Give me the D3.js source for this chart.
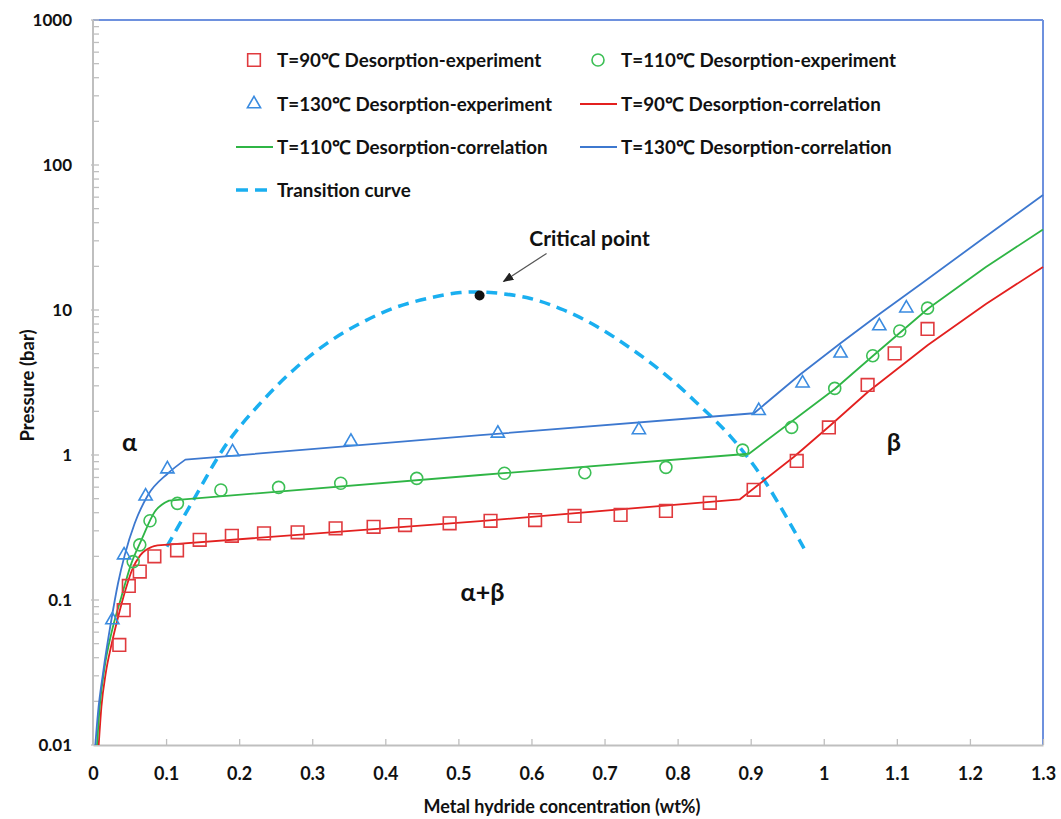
<!DOCTYPE html>
<html>
<head>
<meta charset="utf-8">
<script src="https://cdnjs.cloudflare.com/ajax/libs/d3/7.8.5/d3.min.js"></script>
<style>
  body { margin: 0; background: #fff; }
  svg text { font-family: Lato, "Open Sans", sans-serif; font-weight: 700; fill: #111; }
</style>
</head>
<body>
<div id="chart"></div>
<script>
// ---- experiment points (wt%, bar) ----
const conc90 = [0.036, 0.042, 0.049, 0.064, 0.084, 0.115, 0.146, 0.19, 0.234, 0.28, 0.332, 0.384, 0.427, 0.488, 0.544, 0.605, 0.659, 0.722, 0.784, 0.844, 0.904, 0.963, 1.007, 1.06, 1.097, 1.142];
const pres90 = [0.049, 0.085, 0.125, 0.157, 0.20, 0.22, 0.26, 0.277, 0.288, 0.293, 0.312, 0.32, 0.329, 0.338, 0.352, 0.356, 0.38, 0.386, 0.411, 0.468, 0.575, 0.91, 1.55, 3.04, 5.02, 7.4];

const conc110 = [0.055, 0.064, 0.078, 0.1155, 0.175, 0.254, 0.339, 0.443, 0.563, 0.673, 0.784, 0.889, 0.956, 1.015, 1.067, 1.104, 1.142];
const pres110 = [0.184, 0.24, 0.352, 0.464, 0.574, 0.598, 0.638, 0.69, 0.748, 0.755, 0.822, 1.08, 1.55, 2.88, 4.84, 7.16, 10.3];

const conc130 = [0.0265, 0.0425, 0.072, 0.1018, 0.191, 0.353, 0.554, 0.747, 0.911, 0.971, 1.023, 1.076, 1.113];
const pres130 = [0.0728, 0.204, 0.52, 0.80, 1.05, 1.24, 1.41, 1.49, 2.02, 3.13, 5.03, 7.76, 10.3];

// ---- correlation curves (alpha branch up to the knee, then plateau and beta branch) ----
const corrConc90 = [0.0078, 0.0115, 0.0175, 0.0252, 0.0344, 0.0444, 0.0534, 0.0648, 0.0801, 0.0884, 0.53, 0.8853, 0.9589, 1.0096, 1.0603, 1.1425, 1.2219, 1.3];
const corrPres90 = [0.01, 0.0183, 0.0314, 0.049, 0.0763, 0.117, 0.161, 0.204, 0.232, 0.238, 0.35, 0.495, 0.969, 1.61, 2.72, 5.74, 11.0, 19.8];
const knee90 = 9;

const corrConc110 = [0.0055, 0.0092, 0.016, 0.0251, 0.0388, 0.0525, 0.0662, 0.0845, 0.104, 0.53, 0.8977, 1.0151, 1.0671, 1.1425, 1.2219, 1.3];
const corrPres110 = [0.01, 0.0184, 0.0347, 0.0589, 0.105, 0.179, 0.259, 0.406, 0.485, 0.728, 1.02, 2.85, 4.82, 10.2, 19.8, 35.9];
const knee110 = 8;

const corrConc130 = [0.0032, 0.0068, 0.0137, 0.0251, 0.0342, 0.0434, 0.0571, 0.0753, 0.1027, 0.1264, 0.53, 0.9045, 0.9685, 1.0233, 1.0781, 1.1329, 1.2151, 1.3];
const corrPres130 = [0.01, 0.0166, 0.0312, 0.0728, 0.130, 0.204, 0.338, 0.53, 0.748, 0.929, 1.37, 1.94, 3.62, 5.92, 9.54, 15.1, 30.4, 62.1];
const knee130 = 9;

// transition (dome) curve
const transConc = [0.101, 0.1374, 0.1832, 0.2288, 0.2744, 0.3201, 0.3658, 0.4114, 0.4571, 0.5027, 0.5438, 0.5986, 0.6442, 0.69, 0.7356, 0.7812, 0.827, 0.8726, 0.9182, 0.973];
const transPres = [0.233, 0.49, 1.2, 2.27, 3.86, 5.89, 8.09, 10.3, 12.0, 13.2, 13.2, 12.0, 10.0, 7.67, 5.44, 3.66, 2.27, 1.34, 0.673, 0.227];

const criticalPoint = { conc: 0.529, pres: 12.6 };

// ---- axes ----
const xTicks = [0, 0.1, 0.2, 0.3, 0.4, 0.5, 0.6, 0.7, 0.8, 0.9, 1, 1.1, 1.2, 1.3];
const yTicks = [0.01, 0.1, 1, 10, 100, 1000];

const legendLabels = [
  "T=90\u2103 Desorption-experiment", "T=110\u2103 Desorption-experiment",
  "T=130\u2103 Desorption-experiment", "T=90\u2103 Desorption-correlation",
  "T=110\u2103 Desorption-correlation", "T=130\u2103 Desorption-correlation",
  "Transition curve"
];

const zip = (xs, ys) => xs.map((v, i) => ({ x: v, y: ys[i] }));

class IsothermChart {
  constructor(_config) {
    this.config = {
      parentElement: _config.parentElement,
      containerWidth: _config.containerWidth || 1061,
      containerHeight: _config.containerHeight || 819,
      margin: _config.margin || { top: 20, right: 18, bottom: 74, left: 93 }
    };
    this.initVis();
  }

  initVis() {
    let vis = this;
    const m = vis.config.margin;
    vis.width = vis.config.containerWidth - m.left - m.right;
    vis.height = vis.config.containerHeight - m.top - m.bottom;

    vis.svg = d3.select(vis.config.parentElement)
      .append("svg")
      .attr("width", vis.config.containerWidth)
      .attr("height", vis.config.containerHeight);

    vis.chart = vis.svg.append("g")
      .attr("transform", `translate(${m.left},${m.top})`);

    vis.x = d3.scaleLinear().domain([0, 1.3]).range([0, vis.width]);
    vis.y = d3.scaleLog().domain([0.01, 1000]).range([vis.height, 0]);

    vis.colors = {
      red: "#e3201f", redMark: "#e03a3e",
      green: "#2fb545", greenMark: "#3cbf55",
      blue: "#3d78cf", blueMark: "#3a8be0",
      dash: "#1aaff0", axis: "#bfbfbf", frame: "#6e91de"
    };

    vis.drawAxes();
    vis.updateVis();
  }

  drawAxes() {
    let vis = this;
    const c = vis.colors;

    // frame top & right
    vis.chart.append("line")
      .attr("x1", 0).attr("x2", vis.width).attr("y1", 0).attr("y2", 0)
      .attr("stroke", c.frame).attr("stroke-width", 2);
    vis.chart.append("line")
      .attr("x1", vis.width).attr("x2", vis.width).attr("y1", 0).attr("y2", vis.height)
      .attr("stroke", c.frame).attr("stroke-width", 2);

    // y axis
    const yAxis = d3.axisLeft(vis.y)
      .tickValues(yTicks)
      .tickFormat(d3.format("~g"))
      .tickSize(0)
      .tickPadding(21);
    const yg = vis.chart.append("g").call(yAxis);
    yg.select(".domain").remove();
    yg.selectAll("text").style("font-size", "17px");

    vis.chart.append("g").selectAll("line")
      .data(vis.y.ticks())
      .join("line")
      .attr("x1", d => yTicks.includes(d) ? -2 : 0)
      .attr("x2", 6)
      .attr("y1", d => vis.y(d)).attr("y2", d => vis.y(d))
      .attr("stroke", c.axis).attr("stroke-width", 1.3);
    vis.chart.append("line")
      .attr("x1", 0).attr("x2", 0).attr("y1", 0).attr("y2", vis.height)
      .attr("stroke", c.axis).attr("stroke-width", 2);

    // x axis
    const xAxis = d3.axisBottom(vis.x)
      .tickValues(xTicks)
      .tickFormat(d3.format("~g"))
      .tickSizeInner(-6)
      .tickSizeOuter(0)
      .tickPadding(22);
    const xg = vis.chart.append("g")
      .attr("transform", `translate(0,${vis.height})`)
      .call(xAxis);
    xg.select(".domain").attr("stroke", c.axis).attr("stroke-width", 2);
    xg.selectAll(".tick line").attr("stroke", c.axis).attr("stroke-width", 1.3);
    xg.selectAll("text").style("font-size", "18px");

    // axis titles
    vis.svg.append("text")
      .attr("transform", `translate(28,${vis.config.margin.top + vis.height / 2 + 3}) rotate(-90)`)
      .attr("text-anchor", "middle")
      .attr("dy", "0.35em")
      .style("font-size", "18.5px")
      .text("Pressure (bar)");
    vis.svg.append("text")
      .attr("x", vis.config.margin.left + vis.width / 2 - 6)
      .attr("y", 807)
      .attr("text-anchor", "middle")
      .attr("dy", "0.35em")
      .style("font-size", "18px")
      .text("Metal hydride concentration (wt%)");
  }

  updateVis() {
    let vis = this;
    const c = vis.colors;

    const smooth = d3.line()
      .x(d => vis.x(d.x))
      .y(d => vis.y(d.y))
      .curve(d3.curveMonotoneX);
    const straight = d3.line()
      .x(d => vis.x(d.x))
      .y(d => vis.y(d.y));
    const dome = d3.line()
      .x(d => vis.x(d.x))
      .y(d => vis.y(d.y))
      .curve(d3.curveCatmullRom);

    // transition curve
    vis.chart.append("path")
      .datum(zip(transConc, transPres))
      .attr("d", dome)
      .attr("fill", "none")
      .attr("stroke", c.dash)
      .attr("stroke-width", 3.5)
      .attr("stroke-dasharray", "11,7");

    // correlation lines: smooth alpha branch, straight segments after the knee
    const corr = [
      { pts: zip(corrConc90, corrPres90), knee: knee90, color: c.red },
      { pts: zip(corrConc110, corrPres110), knee: knee110, color: c.green },
      { pts: zip(corrConc130, corrPres130), knee: knee130, color: c.blue }
    ];
    vis.chart.selectAll(".corr")
      .data(corr)
      .join("path")
      .attr("class", "corr")
      .attr("d", d => smooth(d.pts.slice(0, d.knee + 1)) + straight(d.pts.slice(d.knee)).replace("M", "L"))
      .attr("fill", "none")
      .attr("stroke", d => d.color)
      .attr("stroke-width", 1.8)
      .attr("stroke-linejoin", "round");

    // experiment markers
    const sq = d3.symbol(d3.symbolSquare, 160);
    const tri = d3.symbol(d3.symbolTriangle, 75);

    vis.chart.selectAll(".m90")
      .data(zip(conc90, pres90))
      .join("path")
      .attr("class", "m90")
      .attr("transform", d => `translate(${vis.x(d.x)},${vis.y(d.y)})`)
      .attr("d", sq)
      .attr("fill", "none").attr("stroke", c.redMark).attr("stroke-width", 1.6);

    vis.chart.selectAll(".m110")
      .data(zip(conc110, pres110))
      .join("circle")
      .attr("class", "m110")
      .attr("cx", d => vis.x(d.x)).attr("cy", d => vis.y(d.y))
      .attr("r", 6)
      .attr("fill", "none").attr("stroke", c.greenMark).attr("stroke-width", 1.6);

    vis.chart.selectAll(".m130")
      .data(zip(conc130, pres130))
      .join("path")
      .attr("class", "m130")
      .attr("transform", d => `translate(${vis.x(d.x)},${vis.y(d.y)})`)
      .attr("d", tri)
      .attr("fill", "none").attr("stroke", c.blueMark).attr("stroke-width", 1.6);

    // critical point + annotation
    const cx = vis.x(criticalPoint.conc), cy = vis.y(criticalPoint.pres);
    vis.svg.append("defs").append("marker")
      .attr("id", "arrow")
      .attr("viewBox", "0 0 10 10")
      .attr("refX", 9).attr("refY", 5)
      .attr("markerWidth", 9).attr("markerHeight", 9)
      .attr("orient", "auto")
      .append("path")
      .attr("d", "M0,1 L10,5 L0,9 Z")
      .attr("fill", "#222");
    vis.chart.append("circle")
      .attr("cx", cx).attr("cy", cy).attr("r", 5)
      .attr("fill", "#111");
    vis.chart.append("line")
      .attr("x1", cx + 67).attr("y1", cy - 42)
      .attr("x2", cx + 24).attr("y2", cy - 14)
      .attr("stroke", "#555").attr("stroke-width", 1.2)
      .attr("marker-end", "url(#arrow)");
    vis.chart.append("text")
      .attr("x", cx + 110).attr("y", cy - 57)
      .attr("text-anchor", "middle")
      .attr("dy", "0.35em")
      .style("font-size", "21px")
      .text("Critical point");

    // phase labels
    const phase = [
      { t: "\u03b1", x: 0.05, y: 1.23 },
      { t: "\u03b2", x: 1.096, y: 1.23 },
      { t: "\u03b1+\u03b2", x: 0.533, y: 0.113 }
    ];
    vis.chart.selectAll(".phase")
      .data(phase)
      .join("text")
      .attr("class", "phase")
      .attr("x", d => vis.x(d.x))
      .attr("y", d => vis.y(d.y))
      .attr("text-anchor", "middle")
      .attr("dy", "0.35em")
      .style("font-size", "25px")
      .text(d => d.t);

    vis.drawLegend();
  }

  drawLegend() {
    let vis = this;
    const c = vis.colors;
    const rows = [40, 84, 127, 170];
    const cols = [161, 505];
    const kinds = ["sq", "circ", "tri", "red", "green", "blue", "dash"];

    const items = vis.chart.selectAll(".leg")
      .data(legendLabels)
      .join("g")
      .attr("class", "leg")
      .attr("transform", (d, i) => `translate(${cols[i % 2]},${rows[Math.floor(i / 2)]})`);

    items.each(function (d, i) {
      const g = d3.select(this);
      const k = kinds[i];
      if (k === "sq") {
        g.append("path").attr("d", d3.symbol(d3.symbolSquare, 160)())
          .attr("fill", "none").attr("stroke", c.redMark).attr("stroke-width", 1.6);
      } else if (k === "circ") {
        g.append("circle").attr("r", 6)
          .attr("fill", "none").attr("stroke", c.greenMark).attr("stroke-width", 1.6);
      } else if (k === "tri") {
        g.append("path").attr("d", d3.symbol(d3.symbolTriangle, 75)())
          .attr("fill", "none").attr("stroke", c.blueMark).attr("stroke-width", 1.6);
      } else {
        const color = k === "red" ? c.red : k === "green" ? c.green : k === "blue" ? c.blue : c.dash;
        g.append("line").attr("x1", -18).attr("x2", k === "dash" ? 14 : 19)
          .attr("stroke", color)
          .attr("stroke-width", k === "dash" ? 3.5 : 1.8)
          .attr("stroke-dasharray", k === "dash" ? "12,7" : null);
      }
      g.append("text")
        .attr("x", 23)
        .attr("dy", "0.35em")
        .style("font-size", "18.8px")
        .text(d);
    });
  }
}

new IsothermChart({ parentElement: "#chart" });
</script>
</body>
</html>
